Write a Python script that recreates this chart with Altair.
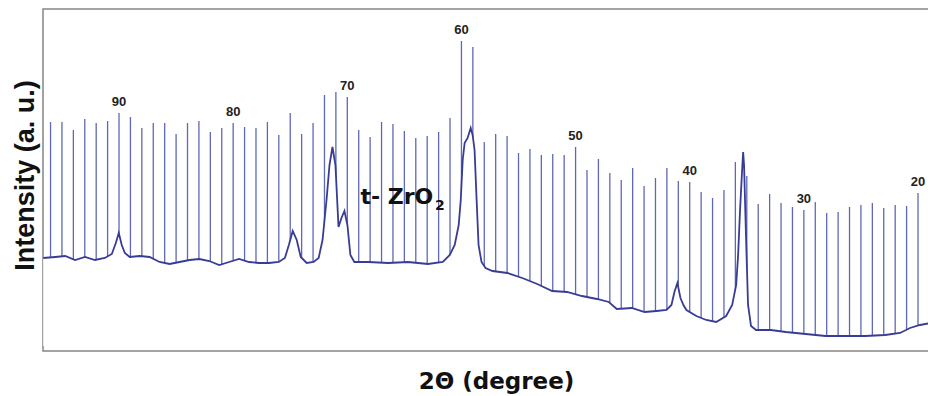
import altair as alt
import pandas as pd

# Reference spikes (one per integer degree) and their peak intensities (a.u.)
spike_deg = [96, 95, 94, 93, 92, 91, 90, 89, 88, 87, 86, 85, 84, 83, 82, 81, 80,
             79, 78, 77, 76, 75, 74, 73, 72, 71, 70, 69, 68, 67, 66, 65, 64, 63,
             62, 61, 60, 59, 58, 57, 56, 55, 54, 53, 52, 51, 50, 49, 48, 47, 46,
             45, 44, 43, 42, 41, 40, 39, 38, 37, 36, 35, 34, 33, 32, 31, 30, 29,
             28, 27, 26, 25, 24, 23, 22, 21, 20, 19]
spike_top = [229, 229, 221, 232, 228, 230, 238, 234, 223, 228, 228, 217, 228, 230,
             219, 223, 228, 224, 223, 229, 216, 238, 217, 228, 256, 259, 254, 221,
             214, 229, 227, 220, 213, 215, 219, 233, 310, 304, 209, 217, 215, 198,
             202, 196, 197, 196, 204, 181, 192, 178, 171, 183, 165, 173, 183, 170,
             169, 159, 153, 161, 189, 175, 147, 157, 148, 144, 141, 149, 138, 139,
             144, 146, 148, 143, 146, 145, 158, 138]

# Diffraction pattern (background + t-ZrO2 reflections)
base_deg = [96.64, 95.59, 94.72, 93.85, 92.98, 92.11, 91.24, 90.63, 90.28, 90.02,
            89.76, 89.49, 89.06, 88.19, 87.32, 86.45, 85.57, 84.70, 83.83, 82.96,
            82.09, 81.22, 80.35, 79.48, 78.61, 77.74, 76.87, 76.00, 75.47, 75.12,
            74.78, 74.43, 74.08, 73.56, 72.95, 72.51, 72.17, 71.82, 71.56, 71.30,
            71.04, 70.77, 70.51, 70.25, 69.99, 69.73, 69.38, 68.16, 66.42, 64.68,
            62.94, 61.63, 61.02, 60.59, 60.24, 60.06, 59.89, 59.72, 59.46, 59.19,
            59.02, 58.85, 58.67, 58.50, 58.24, 57.89, 57.28, 55.97, 54.67, 53.36,
            52.05, 50.75, 49.44, 48.13, 47.09, 46.39, 45.08, 43.95, 42.90, 42.03,
            41.60, 41.34, 41.08, 40.81, 40.55, 40.29, 39.42, 38.55, 37.68, 36.81,
            36.28, 35.93, 35.76, 35.59, 35.41, 35.32, 35.24, 35.06, 34.89, 34.63,
            34.19, 32.89, 31.58, 29.84, 28.10, 26.36, 24.62, 22.88, 21.57, 20.70,
            19.83, 18.87, 17.80]
base_int = [93, 94, 95, 91, 94, 91, 93, 97, 108, 118,
            106, 98, 94, 95, 94, 89, 87, 89, 91, 92,
            90, 86, 89, 92, 89, 88, 88, 89, 93, 106,
            120, 111, 94, 88, 89, 93, 111, 151, 186, 204,
            186, 124, 133, 140, 126, 96, 89, 89, 88, 89,
            87, 89, 96, 106, 126, 151, 191, 208, 213, 223,
            216, 201, 151, 106, 89, 83, 80, 78, 73, 67,
            60, 59, 55, 52, 49, 42, 43, 39, 40, 41,
            46, 59, 68, 53, 46, 41, 35, 31, 29, 35,
            46, 66, 96, 141, 181, 199, 186, 111, 46, 25,
            21, 21, 19, 17, 15, 15, 15, 16, 18, 23,
            26, 28, 29]

annot_main = "t- ZrO"
annot_sub = "2"
annot_deg = [68.85, 62.32]
annot_int = [154, 145]

spikes = pd.DataFrame({"deg": spike_deg, "top": spike_top})
curve = pd.DataFrame({"deg": base_deg, "val": base_int})
ann1 = pd.DataFrame({"deg": [annot_deg[0]], "val": [annot_int[0]], "t": [annot_main]})
ann2 = pd.DataFrame({"deg": [annot_deg[1]], "val": [annot_int[1]], "t": [annot_sub]})

xs = alt.Scale(domain=[17.81, 96.66], reverse=True, nice=False, zero=False)
ys = alt.Scale(domain=[0, 342], nice=False, zero=False)

x_axis = alt.Axis(title="2Θ (degree)", labels=False, ticks=False, domain=False,
                  grid=False, titleFont="DejaVu Sans", titleFontSize=23,
                  titleFontWeight="bold", titleColor="#111111", titleX=453,
                  titleY=30, titleAlign="center", titleBaseline="middle")
y_axis = alt.Axis(title="Intensity (a. u.)", labels=False, ticks=False,
                  domain=False, grid=False, titleFont="Liberation Sans",
                  titleFontSize=27, titleFontWeight="bold", titleColor="#111111",
                  titleX=-18, titleY=166, titleAngle=270, titleAlign="center",
                  titleBaseline="middle")

X = alt.X("deg:Q", scale=xs, axis=x_axis)

rules = alt.Chart(spikes).mark_rule(color="#5e68b6", strokeWidth=1.3).encode(
    x=X,
    y=alt.Y("top:Q", scale=ys, axis=y_axis),
    y2=alt.datum(10),
)

mask = alt.Chart(curve).mark_area(color="white", opacity=1).encode(
    x=alt.X("deg:Q", scale=xs),
    y=alt.Y("val:Q", scale=ys),
    y2=alt.datum(5),
)

line = alt.Chart(curve).mark_line(color="#383c95", strokeWidth=1.8).encode(
    x=alt.X("deg:Q", scale=xs),
    y=alt.Y("val:Q", scale=ys),
)

labels = alt.Chart(spikes).transform_filter("datum.deg % 10 == 0").mark_text(
    dy=-11, fontSize=13, fontWeight="bold", font="Liberation Sans", color="#222222"
).encode(
    x=alt.X("deg:Q", scale=xs),
    y=alt.Y("top:Q", scale=ys),
    text="deg:Q",
)

t1 = alt.Chart(ann1).mark_text(align="left", baseline="middle", fontSize=22,
                               fontWeight="bold", font="DejaVu Sans",
                               color="#111111").encode(
    x=alt.X("deg:Q", scale=xs), y=alt.Y("val:Q", scale=ys), text="t:N")
t2 = alt.Chart(ann2).mark_text(align="left", baseline="middle", fontSize=14,
                               fontWeight="bold", font="DejaVu Sans",
                               color="#111111").encode(
    x=alt.X("deg:Q", scale=xs), y=alt.Y("val:Q", scale=ys), text="t:N")

chart = alt.layer(rules, mask, line, labels, t1, t2).properties(
    width=900, height=342,
    autosize=alt.AutoSizeParams(type="none"),
    padding={"left": 35, "top": 1, "right": -15, "bottom": 45},
    background="white",
).configure_view(stroke="#858585", strokeWidth=1.5)

chart.save("out.html", embed_options={"renderer": "svg", "actions": False})
